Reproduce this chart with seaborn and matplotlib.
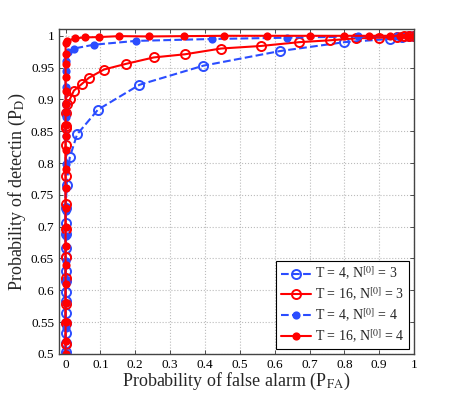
import numpy as np
import pandas as pd
import matplotlib
matplotlib.use("Agg")
import matplotlib.pyplot as plt
import seaborn as sns
from matplotlib.ticker import FuncFormatter

# --- dados -------------------------------------------------------------------
# T = 4, N[0] = 3
pfa_t4_n3 = [0, 0, 0, 0, 0, 0, 0, 0, 0, 0, 0, 0, 0, 0.001, 0.003,
             0.012, 0.033, 0.093, 0.212, 0.395, 0.615, 0.80, 0.93, 0.965, 0.985, 1.0]
pd_t4_n3 = [0.503, 0.517, 0.533, 0.548, 0.565, 0.583, 0.598, 0.615, 0.631, 0.652,
            0.667, 0.688, 0.705, 0.73, 0.766,
            0.809, 0.845, 0.884, 0.923, 0.953, 0.976, 0.990, 0.995, 0.998, 0.999, 1.0]

# T = 16, N[0] = 3
pfa_t16_n3 = [0, 0, 0, 0, 0, 0, 0, 0, 0, 0, 0.001, 0.002, 0.005,
              0.012, 0.024, 0.046, 0.067, 0.11, 0.174, 0.253, 0.343, 0.446,
              0.56, 0.67, 0.76, 0.834, 0.90, 0.95, 0.97, 0.985, 1.0]
pd_t16_n3 = [0.515, 0.549, 0.578, 0.62, 0.653, 0.696, 0.736, 0.78, 0.829, 0.855,
             0.858, 0.879, 0.893,
             0.900, 0.914, 0.924, 0.934, 0.947, 0.956, 0.966, 0.971, 0.980,
             0.984, 0.990, 0.993, 0.996, 0.997, 0.998, 0.999, 0.9995, 1.0]

# T = 4, N[0] = 4
pfa_t4_n4 = [0, 0, 0, 0, 0, 0, 0, 0, 0, 0, 0, 0, 0, 0, 0, 0.001,
             0.007, 0.024, 0.081, 0.202, 0.42, 0.636, 0.84, 0.95, 1.0]
pd_t4_n4 = [0.502, 0.54, 0.58, 0.615, 0.646, 0.685, 0.725, 0.76, 0.799, 0.842,
            0.872, 0.880, 0.893, 0.92, 0.944, 0.96,
            0.974, 0.980, 0.986, 0.992, 0.995, 0.997, 0.999, 1.0, 1.0]

# T = 16, N[0] = 4
pfa_t16_n4 = [0, 0, 0, 0, 0, 0, 0, 0, 0, 0, 0, 0, 0, 0, 0, 0, 0, 0, 0, 0, 0,
              0.005, 0.026, 0.055, 0.095, 0.154, 0.24, 0.34, 0.455, 0.578,
              0.70, 0.80, 0.87, 0.93, 0.96, 0.98, 1.0]
pd_t16_n4 = [0.50, 0.52, 0.55, 0.58, 0.61, 0.64, 0.67, 0.70, 0.73, 0.76, 0.79,
             0.82, 0.842, 0.86, 0.88, 0.893, 0.913, 0.935, 0.955, 0.972, 0.988,
             0.992, 0.996, 0.9975, 0.998, 0.9995, 0.999, 0.9995, 1.0, 1.0,
             1.0, 1.0, 1.0, 1.0, 1.0, 1.0, 1.0]

labels = [r"T = 4, N$^{[0]}$ = 3", r"T = 16, N$^{[0]}$ = 3",
          r"T = 4, N$^{[0]}$ = 4", r"T = 16, N$^{[0]}$ = 4"]

# --- configuração -------------------------------------------------------------
sns.set_style("ticks")
plt.rcParams['font.family'] = ['Liberation Serif', 'DejaVu Serif']
plt.rcParams['mathtext.fontset'] = 'stix'

azul = '#2b4dff'
verm = '#ff0000'

series = [
    (pfa_t4_n3, pd_t4_n3, azul, '--', 'o', 'none', 6.5),
    (pfa_t16_n3, pd_t16_n3, verm, '-', 'o', 'none', 6.5),
    (pfa_t4_n4, pd_t4_n4, azul, '--', 'o', azul, 4.5),
    (pfa_t16_n4, pd_t16_n4, verm, '-', 'o', verm, 4.5),
]

fig, ax = plt.subplots(figsize=(4.57, 3.99), dpi=100)

for (x, y, cor, ls, mk, mfc, ms), lab in zip(series, labels):
    sns.lineplot(x=x, y=y, ax=ax, estimator=None, sort=False, color=cor,
                 linestyle=ls, linewidth=1.5, marker=mk, markersize=ms,
                 markerfacecolor=mfc, markeredgecolor=cor, markeredgewidth=1.4,
                 label=lab)

ax.set_xlim(-0.019, 1.0)
ax.set_ylim(0.5, 1.0105)
ax.set_xticks(np.arange(0, 1.01, 0.1))
ax.set_yticks(np.arange(0.5, 1.001, 0.05))
fmt = FuncFormatter(lambda v, p: f"{v:.2f}".rstrip('0').rstrip('.'))
ax.xaxis.set_major_formatter(fmt)
ax.yaxis.set_major_formatter(fmt)
ax.tick_params(direction='in', top=True, right=True, labelsize=9.5,
               length=3, width=0.6, colors='#333333', labelcolor='black')
for s in ax.spines.values():
    s.set_visible(True)
    s.set_color('#444444')
    s.set_linewidth(1.0)
ax.grid(True, linestyle=':', color='#bbbbbb', linewidth=0.8)

ax.set_xlabel(r"Probability of false alarm (P$_{\mathrm{FA}}$)", fontsize=13, labelpad=0)
ax.set_ylabel(r"Probability of detectin (P$_{\mathrm{D}}$)", fontsize=13, labelpad=2)

leg = ax.legend(loc='lower right', fontsize=10, frameon=True, fancybox=False,
                edgecolor='black', framealpha=1, borderpad=0.3,
                handlelength=2.2, handletextpad=0.3, labelspacing=0.25,
                borderaxespad=0.35)
leg.get_frame().set_linewidth(0.8)

fig.subplots_adjust(left=0.129, right=0.906, top=0.927, bottom=0.113)
fig.savefig("out.png", dpi=100)
